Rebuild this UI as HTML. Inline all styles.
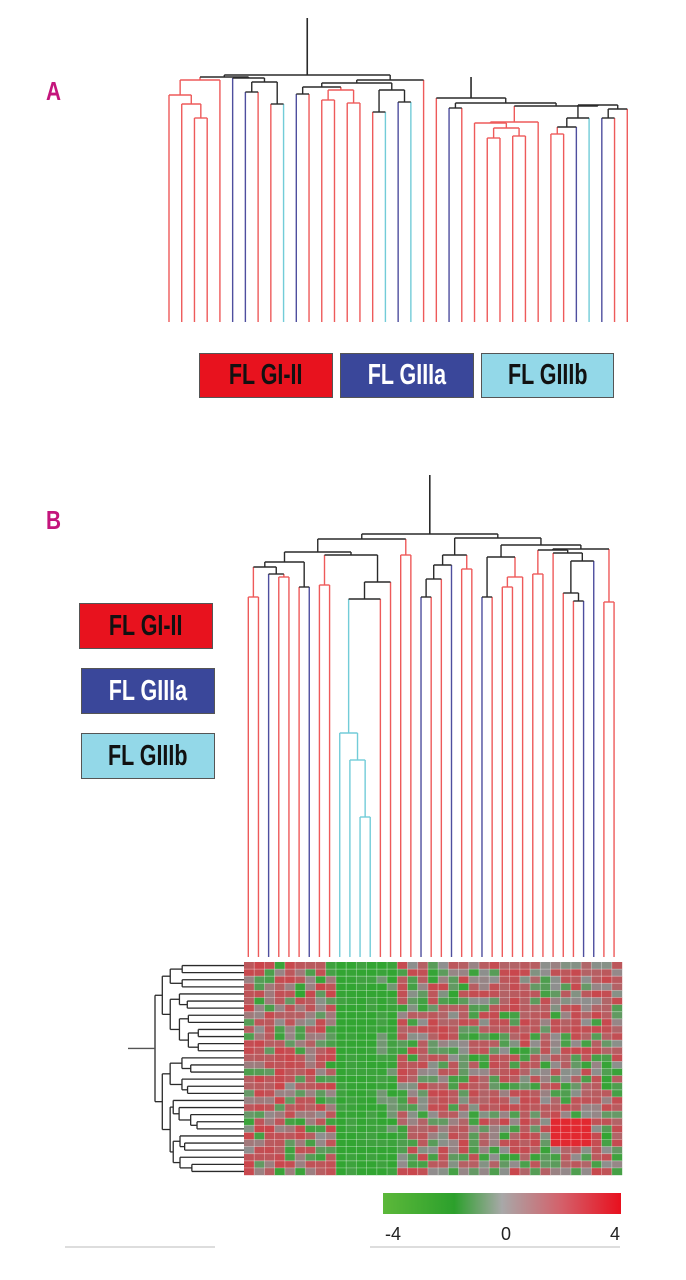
<!DOCTYPE html>
<html><head><meta charset="utf-8">
<style>
html,body{margin:0;padding:0;background:#fff;}
#wrap{position:relative;width:686px;height:1280px;overflow:hidden;background:#fff;}
svg{position:absolute;left:0;top:0;}
.box{position:absolute;box-sizing:border-box;border:1.5px solid #555;display:flex;align-items:center;justify-content:center;overflow:hidden;}
.box span{font-family:"Liberation Sans",sans-serif;font-weight:bold;font-size:29px;transform:scaleX(0.74);white-space:nowrap;display:inline-block;letter-spacing:0px;}
.lbl{position:absolute;font-family:"Liberation Sans",sans-serif;font-weight:bold;color:#c4157c;font-size:26px;transform:scaleX(0.8);transform-origin:left top;}
.num{position:absolute;font-family:"Liberation Sans",sans-serif;font-size:18px;color:#222;}
</style></head><body>
<div id="wrap">
<svg id="s" width="686" height="1280" xmlns="http://www.w3.org/2000/svg">
<defs>
<linearGradient id="cb" x1="0" x2="1" y1="0" y2="0">
<stop offset="0" stop-color="#5cb83a"/>
<stop offset="0.3" stop-color="#2ca02c"/>
<stop offset="0.5" stop-color="#a8a8a8"/>
<stop offset="0.75" stop-color="#d4606a"/>
<stop offset="1" stop-color="#e8101e"/>
</linearGradient>
</defs>
<rect x="383" y="1193" width="238" height="21" fill="url(#cb)"/>
<line x1="65" y1="1247" x2="215" y2="1247" stroke="#bbb" stroke-width="1"/>
<line x1="370" y1="1247" x2="620" y2="1247" stroke="#bbb" stroke-width="1"/>
</svg>
<div class="lbl" style="left:46px;top:76px;">A</div>
<div class="lbl" style="left:46px;top:505px;">B</div>

<div class="box" style="left:199px;top:353px;width:134px;height:45px;background:#e8121e;"><span style="color:#111">FL GI-II</span></div>
<div class="box" style="left:340px;top:353px;width:134px;height:45px;background:#3a479a;"><span style="color:#fff">FL GIIIa</span></div>
<div class="box" style="left:481px;top:353px;width:133px;height:45px;background:#93d8e8;"><span style="color:#111">FL GIIIb</span></div>

<div class="box" style="left:79px;top:603px;width:134px;height:46px;background:#e8121e;"><span style="color:#111">FL GI-II</span></div>
<div class="box" style="left:81px;top:668px;width:134px;height:46px;background:#3a479a;"><span style="color:#fff">FL GIIIa</span></div>
<div class="box" style="left:81px;top:733px;width:134px;height:46px;background:#93d8e8;"><span style="color:#111">FL GIIIb</span></div>

<div class="num" style="left:385px;top:1224px;">-4</div>
<div class="num" style="left:501px;top:1224px;">0</div>
<div class="num" style="left:610px;top:1224px;">4</div>
</div>
<script>
(function(){
var svg=document.getElementById('s');var NS='http://www.w3.org/2000/svg';
function ln(x1,y1,x2,y2,c,w){var l=document.createElementNS(NS,'line');l.setAttribute('x1',x1);l.setAttribute('y1',y1);l.setAttribute('x2',x2);l.setAttribute('y2',y2);l.setAttribute('stroke',c);l.setAttribute('stroke-width',w||1.4);svg.appendChild(l);}
function rc(x,y,w,h,c){var r=document.createElementNS(NS,'rect');r.setAttribute('x',x);r.setAttribute('y',y);r.setAttribute('width',w);r.setAttribute('height',h);r.setAttribute('fill',c);svg.appendChild(r);}
var COL={r:'#ee5a5a',b:'#4e4e9e',c:'#72ccd8',k:'#2a2a2a'};
function tree(t,lx,lc,bottom,rootTop){
 function go(n){
  if(typeof n==='number'){return {x:lx(n),c:lc[n]||'r',leaf:true};}
  var a=go(n[1]),b=go(n[2]),y=n[0];
  var c=(a.c===b.c)?a.c:'k';
  [a,b].forEach(function(ch){ln(ch.x,ch.leaf?bottom:ch.y,ch.x,y,COL[ch.c]);});
  ln(a.x,y,b.x,y,COL[c]);
  return {x:(a.x+b.x)/2,y:y,c:c};
 }
 var r=go(t);ln(r.x,r.y,r.x,rootTop,COL.k,1.6);return r;
}
// Panel A
var cA=('rrrrr'+'bb'+'rr'+'c'+'b'+'rrrrrr'+'c'+'b'+'c'+'rr'+'b'+'rrrrrrrrr'+'b'+'c'+'b'+'rr').split('');
var lxA=function(i){return 169+i*12.73;};
var L1=[80,[95,0,[104,1,[118,2,3]]],4];
var G59=[78,5,[82,[92,6,7],[104,8,9]]];
var LA=[77,L1,G59];
var G1015=[87,[94,10,11],[90,[100,12,13],[103,14,15]]];
var G1619=[90,[112,16,17],[102,18,19]];
var LB=[80,[83,G1015,G1619],20];
tree([75,LA,LB],lxA,cA,322,18);
var G2429=[122,[123,24,[128,[138,25,26],[136,27,28]]],29];
var G3036=[105,[118,[127,[134,30,31],32],33],[109,[118,34,35],36]];
tree([98,21,[103,[108,22,23],[106,G2429,G3036]]],lxA,cA,322,77);
// Panel B
var cB='rrbrrrbrrccccrrrrbrrbrrbrrrrrrrrrbbrr'.split('');
var lxB=function(i){return 248.3+i*10.16;};
var gA=[562,[567,[597,0,1],[574,2,[577,3,4]]],[587,5,6]];
var cy=[733,9,[760,10,[817,11,12]]];
var gBr=[582,[599,cy,13],14];
var gB=[555,[585,7,8],gBr];
var left=[539,[552,gA,gB],[555,15,16]];
var R1=[555,[565,[579,[597,17,18],19],20],[569,21,22]];
var R2a=[557,[597,23,24],[577,[587,25,26],27]];
var R2b=[549,[550,[574,28,29],[553,30,[561,[593,31,[601,32,33]],34]]],[602,35,36]];
tree([534,left,[538,R1,[545,R2a,R2b]]],lxB,cB,957,475);
// heatmap
var seed=12345;function rnd(){seed=(seed*1103515245+12345)%2147483648;return seed/2147483648;}
var X0=244,X1=622,Y0=962,Y1=1175,NC=37,NR=30;
var cw=(X1-X0)/NC,rh=(Y1-Y0)/NR;
function mix(a,b,t){return 'rgb('+a.map(function(v,i){return Math.round(v+(b[i]-v)*t);}).join(',')+')';}
var G=[50,165,50],Gr=[143,143,143],R=[226,40,48];
function colr(v){if(v<0){return mix(Gr,G,Math.min(1,-v));}return mix(Gr,R,Math.min(1,v));}
for(var r=0;r<NR;r++){for(var c=0;c<NC;c++){
 var v;
 if(c>=9&&c<=14){v=-0.8-rnd()*0.4; if(c>=13&&rnd()<0.3)v=-0.3;}
 else{var u=rnd();v=(u<0.25)?-(0.4+rnd()*0.6):(u<0.5?(rnd()-0.5)*0.3:0.4+rnd()*0.3);
  if(c<9&&u>0.3)v=Math.abs(v)*0.9+0.1;
  if(r>=22&&r<=25&&c>=30&&c<=33)v=1;}
 rc(X0+c*cw,Y0+r*rh,cw+0.2,rh+0.2,colr(v));
}}
for(var c=1;c<NC;c++)ln(X0+c*cw,Y0,X0+c*cw,Y1,'rgba(255,255,255,0.4)',0.8);
for(var r=1;r<NR;r++)ln(X0,Y0+r*rh,X1,Y0+r*rh,'rgba(255,255,255,0.4)',0.8);
function rt(lo,hi,x){
 if(lo===hi){var y=Y0+(lo+0.5)*rh;return {y:y,x:x,lo:true};}
 var mid=lo+Math.max(1,Math.floor((hi-lo+1)*(0.3+rnd()*0.4)));if(mid>hi)mid=hi;
 var nx=x+3+rnd()*(lo===0&&hi===NR-1?5:9);
 var a=rt(lo,mid-1,nx),b=rt(mid,hi,nx);
 [a,b].forEach(function(ch){ if(ch.lo){ln(x,ch.y,244,ch.y,'#2a2a2a',1.3);} else {ln(x,ch.y,ch.x,ch.y,'#2a2a2a',1.3);} });
 ln(x,a.y,x,b.y,'#2a2a2a',1.3);
 return {y:(a.y+b.y)/2,x:x};
}
var rr=rt(0,NR-1,155);ln(128,rr.y,155,rr.y,'#555',1.4);
})();
</script>
</body></html>
